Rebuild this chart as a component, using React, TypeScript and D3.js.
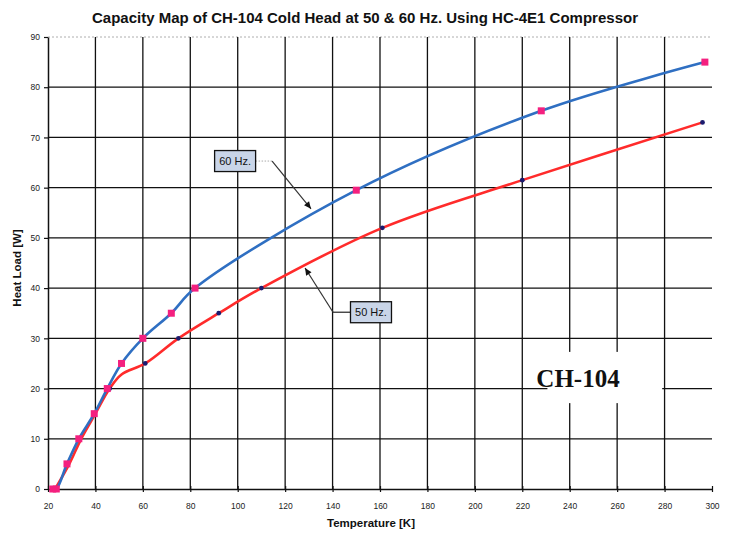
import React, { useEffect, useRef } from 'react';
import * as d3 from 'd3';

// 60 Hz curve (blue line, pink square markers)
const sixtyTemp = [22, 23.5, 28, 33, 39.5, 45, 51, 60, 72, 82, 150, 228, 297];
const sixtyLoad = [0, 0, 5, 10, 15, 20, 25, 30, 35, 40, 59.5, 75.3, 85];

// 50 Hz curve (red line, small navy dots)
const fiftyTemp = [23, 29, 34, 40, 46, 51, 61, 75, 92, 110, 161, 220, 296];
const fiftyLoad = [0, 5, 10, 15, 20, 22.8, 25, 30, 35, 40, 52, 61.5, 73];
const fiftyDotTemp = [46, 61, 75, 92, 110, 161, 220, 296];
const fiftyDotLoad = [20, 25, 30, 35, 40, 52, 61.5, 73];

const xTicks = [20, 40, 60, 80, 100, 120, 140, 160, 180, 200, 220, 240, 260, 280, 300];
const yTicks = [0, 10, 20, 30, 40, 50, 60, 70, 80, 90];

const App = () => {
  const svgRef = useRef<SVGSVGElement>(null);

  useEffect(() => {
    const width = 733;
    const height = 535;
    const svg = d3.select(svgRef.current);
    svg.selectAll('*').remove();

    const x = d3.scaleLinear().domain([20, 300]).range([48, 712]);
    const y = d3.scaleLinear().domain([0, 90]).range([489, 37]);

    svg.append('rect').attr('width', width).attr('height', height).attr('fill', '#fff');

    // grid
    const grid = svg.append('g');
    grid.selectAll('.hg')
      .data(yTicks.filter(d => d > 0 && d < 90))
      .enter().append('line')
      .attr('x1', x(20)).attr('x2', x(300))
      .attr('y1', d => y(d)).attr('y2', d => y(d))
      .attr('stroke', '#111').attr('stroke-width', 1.3);
    grid.append('line')
      .attr('x1', x(20)).attr('x2', x(300))
      .attr('y1', y(90)).attr('y2', y(90))
      .attr('stroke', '#999').attr('stroke-width', 0.8).attr('stroke-dasharray', '2,2');
    grid.selectAll('.vg')
      .data(xTicks.filter(d => d > 20 && d < 300))
      .enter().append('line')
      .attr('x1', d => x(d)).attr('x2', d => x(d))
      .attr('y1', y(90)).attr('y2', y(0))
      .attr('stroke', '#111').attr('stroke-width', 1.3);

    // white patch behind the model name
    svg.append('rect')
      .attr('x', x(230.6)).attr('y', y(27.3))
      .attr('width', x(279) - x(230.6)).attr('height', y(17.1) - y(27.3))
      .attr('fill', '#fff');

    // axes
    const xAxis = d3.axisBottom(x).tickValues(xTicks).tickSize(4).tickSizeOuter(0);
    const gx = svg.append('g').attr('transform', `translate(0,${y(0)})`).call(xAxis);
    gx.select('.domain').attr('stroke', '#111').attr('stroke-width', 1.5);
    gx.selectAll('.tick line').attr('stroke', '#111').attr('stroke-width', 1.2)
      .attr('y1', -3).attr('y2', 3);
    gx.selectAll('.tick text')
      .attr('y', 14).attr('font-size', 8.5).attr('font-family', 'Liberation Sans, Arial, sans-serif')
      .attr('fill', '#222');

    const yAxis = d3.axisLeft(y).tickValues(yTicks).tickSize(4).tickSizeOuter(0);
    const gy = svg.append('g').attr('transform', `translate(${x(20)},0)`).call(yAxis);
    gy.select('.domain').attr('stroke', '#111').attr('stroke-width', 1.5);
    gy.selectAll('.tick line').attr('stroke', '#111').attr('stroke-width', 1.2);
    gy.selectAll('.tick text')
      .attr('x', -8).attr('font-size', 8.5).attr('font-family', 'Liberation Sans, Arial, sans-serif')
      .attr('fill', '#222');

    // curves
    const line = d3.line<[number, number]>()
      .x(d => x(d[0])).y(d => y(d[1]))
      .curve(d3.curveCatmullRom.alpha(0.5));

    const fifty = fiftyTemp.map((t, i) => [t, fiftyLoad[i]] as [number, number]);
    const sixty = sixtyTemp.map((t, i) => [t, sixtyLoad[i]] as [number, number]);

    svg.append('path').attr('d', line(fifty)).attr('fill', 'none')
      .attr('stroke', '#ff2b2b').attr('stroke-width', 2.6);
    svg.append('path').attr('d', line(sixty)).attr('fill', 'none')
      .attr('stroke', '#2f6fc2').attr('stroke-width', 2.6);

    svg.selectAll('.dot')
      .data(fiftyDotTemp.map((t, i) => [t, fiftyDotLoad[i]]))
      .enter().append('circle')
      .attr('cx', d => x(d[0])).attr('cy', d => y(d[1])).attr('r', 2.4)
      .attr('fill', '#1b1b6e');

    svg.selectAll('.sq')
      .data(sixty)
      .enter().append('rect')
      .attr('x', d => x(d[0]) - 3.5).attr('y', d => y(d[1]) - 3.5)
      .attr('width', 7).attr('height', 7)
      .attr('fill', '#f4207f');

    // callouts
    const callout = (label: string, box: [number, number], elbow: [number, number], tip: [number, number], dottedFirst: boolean) => {
      const bx = x(box[0]), by = y(box[1]);
      const ex = x(elbow[0]), ey = y(elbow[1]);
      const tx = x(tip[0]), ty = y(tip[1]);
      const edge = ex > bx ? bx + 20.5 : bx - 20.5;
      svg.append('line').attr('x1', edge).attr('y1', by).attr('x2', ex).attr('y2', ey)
        .attr('stroke', dottedFirst ? '#aaa' : '#222').attr('stroke-width', dottedFirst ? 1 : 1.2)
        .attr('stroke-dasharray', dottedFirst ? '1.5,1.5' : null);
      svg.append('line').attr('x1', ex).attr('y1', ey).attr('x2', tx).attr('y2', ty)
        .attr('stroke', '#333').attr('stroke-width', 1.2);
      const ang = Math.atan2(ty - ey, tx - ex);
      const hl = 7, hw = 3.2;
      const p1 = [tx - hl * Math.cos(ang) + hw * Math.sin(ang), ty - hl * Math.sin(ang) - hw * Math.cos(ang)];
      const p2 = [tx - hl * Math.cos(ang) - hw * Math.sin(ang), ty - hl * Math.sin(ang) + hw * Math.cos(ang)];
      svg.append('path').attr('d', `M${tx},${ty}L${p1[0]},${p1[1]}L${p2[0]},${p2[1]}Z`).attr('fill', '#111');
      svg.append('rect').attr('x', bx - 20.5).attr('y', by - 10.5).attr('width', 41).attr('height', 21)
        .attr('fill', '#c9d5e8').attr('stroke', '#111').attr('stroke-width', 1.3);
      svg.append('text').attr('x', bx).attr('y', by + 4).attr('text-anchor', 'middle')
        .attr('font-size', 11).attr('font-family', 'Liberation Sans, Arial, sans-serif')
        .attr('fill', '#111').text(label);
    };
    callout('60 Hz.', [98.9, 65.3], [114.5, 65.3], [130.9, 55.8], true);
    callout('50 Hz.', [156.2, 35.2], [140.2, 35.2], [128.4, 44.0], false);

    // model name
    svg.append('text')
      .attr('x', x(243.5)).attr('y', y(20.3))
      .attr('text-anchor', 'middle')
      .attr('font-family', 'Liberation Serif, Times New Roman, serif')
      .attr('font-weight', 'bold').attr('font-size', 25)
      .attr('fill', '#111')
      .text('CH-104');

    // titles
    svg.append('text')
      .attr('x', 365).attr('y', 23).attr('text-anchor', 'middle')
      .attr('font-family', 'Liberation Sans, Arial, sans-serif')
      .attr('font-weight', 'bold').attr('font-size', 15).attr('fill', '#111')
      .text('Capacity Map of CH-104 Cold Head at 50 & 60 Hz. Using HC-4E1 Compressor');

    svg.append('text')
      .attr('x', 371).attr('y', 527).attr('text-anchor', 'middle')
      .attr('font-family', 'Liberation Sans, Arial, sans-serif')
      .attr('font-weight', 'bold').attr('font-size', 11.5).attr('fill', '#111')
      .text('Temperature [K]');

    svg.append('text')
      .attr('transform', 'rotate(-90)')
      .attr('x', -268).attr('y', 21).attr('text-anchor', 'middle')
      .attr('font-family', 'Liberation Sans, Arial, sans-serif')
      .attr('font-weight', 'bold').attr('font-size', 11.5).attr('fill', '#111')
      .text('Heat Load [W]');
  }, []);

  return (
    <svg ref={svgRef} width={733} height={535}
      style={{ position: 'absolute', left: 0, top: 0, display: 'block' }} />
  );
};

export default App;
